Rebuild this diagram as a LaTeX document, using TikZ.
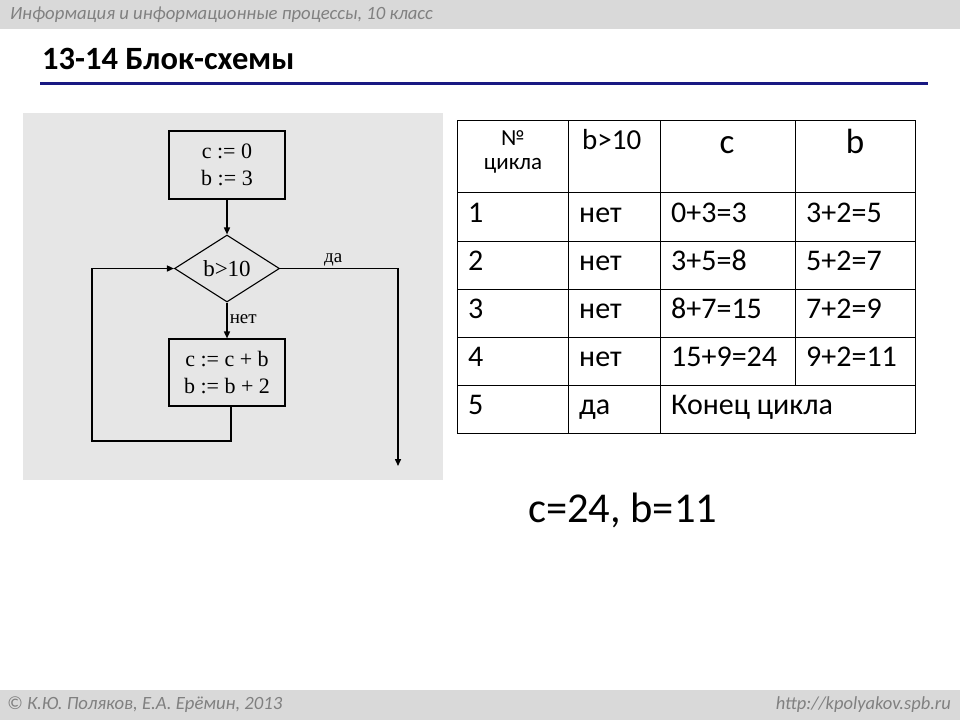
\documentclass[tikz,border=0pt]{standalone}
\usepackage{fontspec}
\setmainfont{Carlito}
\newfontfamily\serifru{Liberation Serif}
\usetikzlibrary{shapes.geometric,arrows.meta}
\definecolor{bandgray}{RGB}{217,217,217}
\definecolor{panelgray}{RGB}{230,230,230}
\definecolor{txtgray}{RGB}{128,128,128}
\definecolor{navy}{RGB}{24,24,130}
\tikzset{
  fcbox/.style={draw=black, line width=1.1pt, minimum width=116pt, minimum height=68pt, align=center, font=\serifru\fontsize{22}{27}\selectfont, inner sep=0pt},
  fcdia/.style={draw=black, line width=1.1pt, diamond, minimum width=105pt, minimum height=67pt, inner sep=0pt, aspect=1.57, font=\serifru\fontsize{23}{23}\selectfont},
  fcline/.style={line width=1.5pt, draw=black},
  fcarrow/.style={fcline, -{Triangle[length=7pt,width=6pt]}},
  cell/.style={anchor=base west, inner sep=0pt, font=\fontsize{30}{30}\selectfont},
  grid/.style={line width=1pt, draw=black},
}
\begin{document}
\begin{tikzpicture}[x=1pt,y=-1pt]
\useasboundingbox (0,0) rectangle (960,720);
\fill[white] (0,0) rectangle (960,720);
% header / footer bands
\fill[bandgray] (0,0) rectangle (960,29);
\fill[bandgray] (0,690) rectangle (960,720);
\node[anchor=west, inner sep=0pt, text=txtgray, font=\itshape\fontsize{18.7}{18.7}\selectfont] (hdr) at (10,15) {Информация и информационные процессы, 10 класс};
\node[anchor=base west, inner sep=0pt, font=\bfseries\fontsize{32.5}{32.5}\selectfont] (title) at (42,69) {13-14 Блок-схемы};
\draw[navy, line width=3pt] (40,83.5) -- (928,83.5);
\node[anchor=west, inner sep=0pt, text=txtgray, font=\itshape\fontsize{18.7}{18.7}\selectfont] (foot1) at (7,705) {© К.Ю. Поляков, Е.А. Ерёмин, 2013};
\node[anchor=east, inner sep=0pt, text=txtgray, font=\itshape\fontsize{18.5}{18.5}\selectfont] (foot2) at (951,705) {http://kpolyakov.spb.ru};

% flowchart panel
\fill[panelgray] (23,113) rectangle (443,480);
\node[fcbox] (b1) at (227,165) {c := 0\\b := 3};
\node[fcdia] (d) at (227,268.5) {b>10};
\node[fcbox, minimum height=67pt] (b2) at (227,372.5) {c := c + b\\b := b + 2};
\draw[fcarrow] (b1.south) -- (d.north);
\draw[fcarrow] (d.south) -- node[pos=0.45, right, inner sep=2pt, font=\serifru\fontsize{19}{19}\selectfont] (lnet) {нет} (b2.north);
\coordinate (yesc) at (398,268.5);
\coordinate (yesend) at (398,466);
\draw[fcarrow] (d.east) -- node[pos=0.45, above, inner sep=2pt, font=\serifru\fontsize{19}{19}\selectfont] (lda) {да} (yesc) -- (yesend);
\coordinate (lp1) at (231,441);
\coordinate (lp2) at (92,441);
\coordinate (lp3) at (92,268.5);
\draw[fcarrow] ([xshift=4pt]b2.south) -- (lp1) -- (lp2) -- (lp3) -- (d.west);

% table
\draw[grid] (457,120) rectangle (915,433);
\foreach \yy in {192,241,289,337,385} \draw[grid] (457,\yy) -- (915,\yy);
\draw[grid] (568,120) -- (568,433);
\draw[grid] (660,120) -- (660,433);
\draw[grid] (795,120) -- (795,385);
% header cells
\node[inner sep=0pt, font=\fontsize{23}{23}\selectfont, anchor=base] (hno) at (513,145) {№};
\node[inner sep=0pt, font=\fontsize{23}{23}\selectfont, anchor=base] (hcyc) at (513,169) {цикла};
\node[cell, font=\fontsize{29}{29}\selectfont] (hb10) at (582,149) {b>10};
\node[inner sep=0pt, anchor=base, font=\fontsize{35}{35}\selectfont] (hc) at (727,153) {c};
\node[inner sep=0pt, anchor=base, font=\fontsize{35}{35}\selectfont] (hb) at (855,153) {b};
% rows
\node[cell] (r1a) at (468,222) {1};
\node[cell] (r1b) at (579,222) {нет};
\node[cell] (r1c) at (671,222) {0+3=3};
\node[cell] (r1d) at (806,222) {3+2=5};
\node[cell] (r2a) at (468,270) {2};
\node[cell] (r2b) at (579,270) {нет};
\node[cell] (r2c) at (671,270) {3+5=8};
\node[cell] (r2d) at (806,270) {5+2=7};
\node[cell] (r3a) at (468,318) {3};
\node[cell] (r3b) at (579,318) {нет};
\node[cell] (r3c) at (671,318) {8+7=15};
\node[cell] (r3d) at (806,318) {7+2=9};
\node[cell] (r4a) at (468,366) {4};
\node[cell] (r4b) at (579,366) {нет};
\node[cell] (r4c) at (671,366) {15+9=24};
\node[cell] (r4d) at (806,366) {9+2=11};
\node[cell] (r5a) at (468,414) {5};
\node[cell] (r5b) at (579,414) {да};
\node[cell] (r5c) at (671,414) {Конец цикла};
% result
\node[anchor=base west, inner sep=0pt, font=\fontsize{42.5}{42.5}\selectfont] (res) at (528,522) {c=24, b=11};
\end{tikzpicture}
\end{document}
